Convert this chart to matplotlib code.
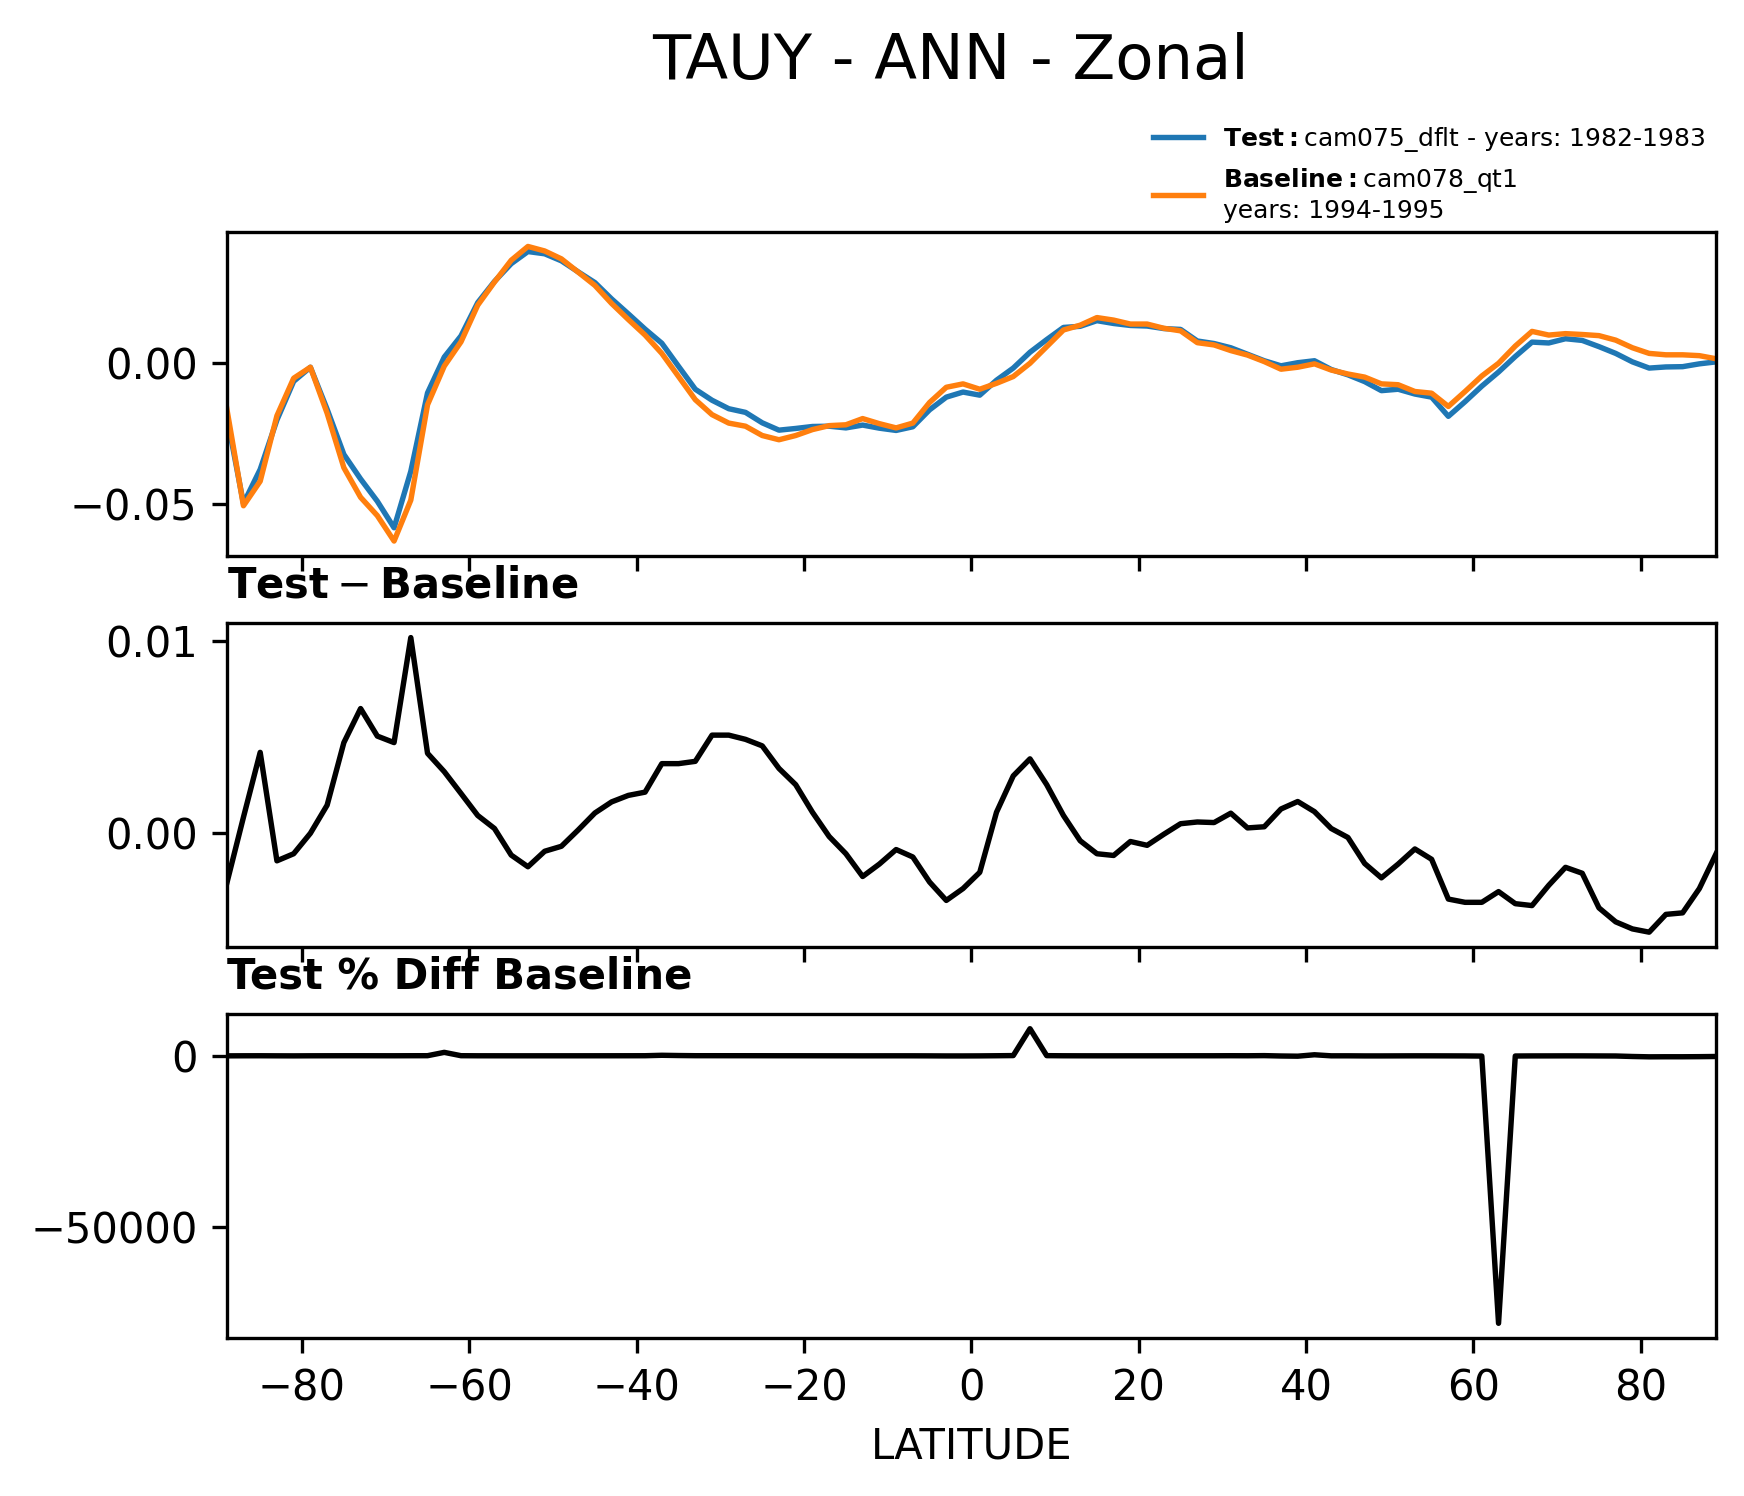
import numpy as np
import matplotlib
matplotlib.use("Agg")
import matplotlib.pyplot as plt
from matplotlib.ticker import MaxNLocator

# latitude grid (2 degree spacing)
lat = np.arange(-89, 90, 2)

# zonal mean TAUY, baseline run (cam078_qt1)
baseline = [
    -0.0159, -0.0505, -0.0418, -0.0186, -0.0053, -0.0014, -0.0177, -0.0370, -0.0475, -0.0540,
    -0.0630, -0.0485, -0.0147, -0.0010, 0.0076, 0.0206, 0.0288, 0.0365, 0.0414, 0.0398,
    0.0370, 0.0323, 0.0276, 0.0212, 0.0155, 0.0100, 0.0035, -0.0047, -0.0129, -0.0182,
    -0.0212, -0.0223, -0.0256, -0.0271, -0.0256, -0.0235, -0.0221, -0.0218, -0.0196, -0.0214,
    -0.0229, -0.0212, -0.0139, -0.0085, -0.0073, -0.0092, -0.0071, -0.0047, 0.0000, 0.0059,
    0.0118, 0.0135, 0.0162, 0.0153, 0.0139, 0.0139, 0.0124, 0.0115, 0.0073, 0.0065,
    0.0045, 0.0029, 0.0006, -0.0021, -0.0014, -0.0002, -0.0024, -0.0038, -0.0049, -0.0073,
    -0.0076, -0.0100, -0.0106, -0.0153, -0.0100, -0.0045, 0.0000, 0.0061, 0.0113, 0.0100,
    0.0105, 0.0102, 0.0098, 0.0082, 0.0055, 0.0035, 0.0030, 0.0030, 0.0027, 0.0016,
]

# zonal mean TAUY, test run (cam075_dflt)
test = [
    -0.0186, -0.0497, -0.0376, -0.0201, -0.0064, -0.0014, -0.0163, -0.0323, -0.0410, -0.0489,
    -0.0583, -0.0383, -0.0105, 0.0022, 0.0097, 0.0215, 0.0290, 0.0353, 0.0396, 0.0388,
    0.0363, 0.0324, 0.0286, 0.0228, 0.0175, 0.0121, 0.0071, -0.0011, -0.0092, -0.0131,
    -0.0161, -0.0174, -0.0211, -0.0237, -0.0231, -0.0224, -0.0223, -0.0229, -0.0219, -0.0230,
    -0.0238, -0.0225, -0.0165, -0.0120, -0.0102, -0.0113, -0.0060, -0.0017, 0.0039, 0.0084,
    0.0127, 0.0131, 0.0151, 0.0141, 0.0134, 0.0132, 0.0123, 0.0120, 0.0079, 0.0070,
    0.0055, 0.0032, 0.0009, -0.0009, 0.0002, 0.0009, -0.0022, -0.0041, -0.0065, -0.0097,
    -0.0092, -0.0109, -0.0120, -0.0188, -0.0136, -0.0081, -0.0031, 0.0024, 0.0075, 0.0072,
    0.0087, 0.0081, 0.0059, 0.0035, 0.0005, -0.0017, -0.0013, -0.0012, -0.0002, 0.0005,
]

# test - baseline
diff = [
    -0.00266, 0.00081, 0.00420, -0.00147, -0.00110, -0.00003, 0.00144, 0.00471, 0.00649, 0.00505,
    0.00471, 0.01020, 0.00415, 0.00319, 0.00205, 0.00090, 0.00022, -0.00117, -0.00178, -0.00097,
    -0.00071, 0.00014, 0.00103, 0.00161, 0.00195, 0.00212, 0.00361, 0.00361, 0.00373, 0.00510,
    0.00510, 0.00488, 0.00454, 0.00336, 0.00251, 0.00107, -0.00020, -0.00110, -0.00229, -0.00164,
    -0.00088, -0.00127, -0.00258, -0.00354, -0.00292, -0.00207, 0.00107, 0.00297, 0.00386, 0.00251,
    0.00090, -0.00042, -0.00110, -0.00119, -0.00046, -0.00066, -0.00008, 0.00047, 0.00056, 0.00053,
    0.00102, 0.00025, 0.00031, 0.00124, 0.00163, 0.00110, 0.00022, -0.00025, -0.00161, -0.00236,
    -0.00164, -0.00085, -0.00139, -0.00347, -0.00364, -0.00364, -0.00308, -0.00371, -0.00381, -0.00275,
    -0.00181, -0.00212, -0.00393, -0.00466, -0.00503, -0.00520, -0.00427, -0.00419, -0.00292, -0.00110,
]

# test % diff baseline
pct_diff = [
    -17, 2, 10, -8, -21, 0, 8, 13, 14, 9,
    7, 21, 29, 1000, 28, 4, 1, -3, -4, -2,
    -2, 0, 4, 8, 13, 21, 150, 77, 29, 28,
    24, 22, 18, 12, 10, 5, -1, -5, -12, -8,
    -4, -6, -19, -41, -40, -23, 15, 64, 7900, 42,
    8, -3, -7, -8, -4, -5, -1, 4, 8, 8,
    22, 10, 50, -57, -114, 300, -9, -7, -33, -33,
    -21, -9, -13, -23, -36, -80, -78000, -61, -34, -28,
    -17, -21, -40, -57, -200, -300, -280, -280, -250, -200,
]

test_label = r"$\bf{Test}:$cam075_dflt - years: 1982-1983"
base_label = r"$\bf{Baseline}:$cam078_qt1" + "\nyears: 1994-1995"

fig, axs = plt.subplots(3, 1, sharex=True, figsize=(1744 / 300, 1496 / 300), dpi=300)
fig.subplots_adjust(left=0.130, right=0.984, bottom=0.1056, top=0.8451, hspace=0.207)

lw = 1.3
axs[0].plot(lat, test, color="#1f77b4", lw=lw, label=test_label)
axs[0].plot(lat, baseline, color="#ff7f0e", lw=lw, label=base_label)
axs[0].legend(loc="lower left", bbox_to_anchor=(0.648, 0.836), bbox_transform=fig.transFigure,
              frameon=False, fontsize=6)

axs[1].plot(lat, diff, color="k", lw=lw)
axs[1].set_title(r"$\mathbf{Test} - \mathbf{Baseline}$", loc="left", fontsize=10)

axs[2].plot(lat, pct_diff, color="k", lw=lw)
axs[2].set_title("Test % Diff Baseline", loc="left", fontsize=10, fontweight="bold")
axs[2].set_xlabel("LATITUDE", fontsize=10)

for ax in axs:
    ax.yaxis.set_major_locator(MaxNLocator(nbins=3, steps=[1, 5, 10]))
    ax.set_xlim(-89, 89)

fig.suptitle("TAUY - ANN - Zonal", fontsize=15, x=0.545, y=0.9588, va="center")

fig.savefig("out.png", dpi=300)
